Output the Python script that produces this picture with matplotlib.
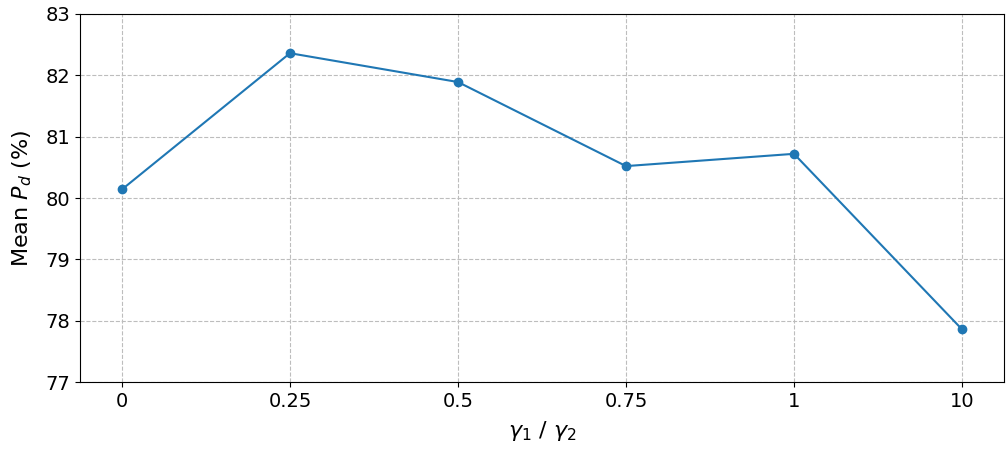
import matplotlib
matplotlib.use("Agg")
import matplotlib.pyplot as plt

# ── data ─────────────────────────────────────────────────────────────────────
ratio_labels = ["0", "0.25", "0.5", "0.75", "1", "10"]
mean_pd = [80.14, 82.36, 81.89, 80.52, 80.72, 77.86]

fig, ax = plt.subplots(figsize=(10.06, 4.49), dpi=100)
fig.subplots_adjust(left=0.0795, right=0.998, top=0.969, bottom=0.149)

x = list(range(len(ratio_labels)))
ax.plot(x, mean_pd, marker="o", color="#1f77b4", linewidth=1.5, markersize=6)

ax.set_xticks(x)
ax.set_xticklabels(ratio_labels)
ax.set_xlim(-0.25, len(x) - 0.75)
ax.set_ylim(77, 83)
ax.set_yticks(range(77, 84))

ax.grid(True, linestyle="--", color="#bdbdbd", linewidth=0.8)
ax.tick_params(labelsize=14)
ax.set_xlabel(r"$\gamma_1$ / $\gamma_2$", fontsize=16, labelpad=6)
ax.set_ylabel(r"Mean $P_d$ (%)", fontsize=16, labelpad=8)

fig.savefig("out.png", dpi=100)
